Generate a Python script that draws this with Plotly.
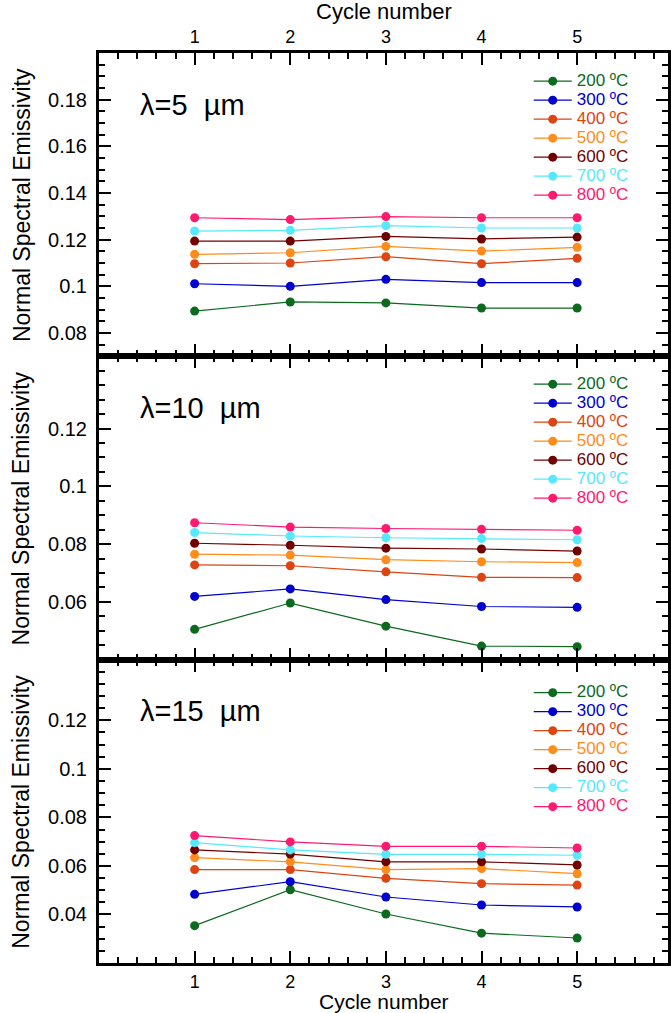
import plotly.graph_objects as go

cycles = [1, 2, 3, 4, 5]
temp_labels = ["200 ºC", "300 ºC", "400 ºC", "500 ºC", "600 ºC", "700 ºC", "800 ºC"]
colors = ["#0B6A1E", "#0000D0", "#DD4411", "#FF8C1A", "#700000", "#55E8FF", "#FF1A70"]

# lambda = 5 um
e5_200 = [0.0894, 0.0933, 0.0929, 0.0907, 0.0907]
e5_300 = [0.1011, 0.1000, 0.1030, 0.1016, 0.1016]
e5_400 = [0.1097, 0.1100, 0.1127, 0.1097, 0.1120]
e5_500 = [0.1137, 0.1144, 0.1171, 0.1151, 0.1167]
e5_600 = [0.1194, 0.1194, 0.1214, 0.1203, 0.1211]
e5_700 = [0.1237, 0.1240, 0.1260, 0.1250, 0.1250]
e5_800 = [0.1294, 0.1286, 0.1299, 0.1294, 0.1294]

# lambda = 10 um
e10_200 = [0.0505, 0.0596, 0.0516, 0.0447, 0.0445]
e10_300 = [0.0619, 0.0645, 0.0608, 0.0584, 0.0581]
e10_400 = [0.0728, 0.0725, 0.0704, 0.0685, 0.0684]
e10_500 = [0.0765, 0.0762, 0.0746, 0.0739, 0.0736]
e10_600 = [0.0803, 0.0796, 0.0786, 0.0783, 0.0776]
e10_700 = [0.0840, 0.0828, 0.0822, 0.0819, 0.0815]
e10_800 = [0.0874, 0.0859, 0.0854, 0.0851, 0.0848]

# lambda = 15 um
e15_200 = [0.0354, 0.0502, 0.0402, 0.0323, 0.0303]
e15_300 = [0.0483, 0.0535, 0.0472, 0.0439, 0.0431]
e15_400 = [0.0585, 0.0585, 0.0549, 0.0527, 0.0521]
e15_500 = [0.0634, 0.0617, 0.0585, 0.0589, 0.0568]
e15_600 = [0.0666, 0.0649, 0.0617, 0.0617, 0.0604]
e15_700 = [0.0696, 0.0666, 0.0648, 0.0648, 0.0644]
e15_800 = [0.0725, 0.0699, 0.0681, 0.0681, 0.0674]

panel_labels = ["λ=5 µm", "λ=10 µm", "λ=15 µm"]
y_ranges = [[0.07, 0.2], [0.04, 0.145], [0.02, 0.145]]
y_tickvals = [[0.08, 0.10, 0.12, 0.14, 0.16, 0.18],
              [0.06, 0.08, 0.10, 0.12],
              [0.04, 0.06, 0.08, 0.10, 0.12]]
y_ticktext = [["0.08", "0.1", "0.12", "0.14", "0.16", "0.18"],
              ["0.06", "0.08", "0.1", "0.12"],
              ["0.04", "0.06", "0.08", "0.1", "0.12"]]
x_tickvals = [1, 2, 3, 4, 5]
x_ticktext = ["1", "2", "3", "4", "5"]

panels = [
    [e5_200, e5_300, e5_400, e5_500, e5_600, e5_700, e5_800],
    [e10_200, e10_300, e10_400, e10_500, e10_600, e10_700, e10_800],
    [e15_200, e15_300, e15_400, e15_500, e15_600, e15_700, e15_800],
]

FONT = "Arial, Liberation Sans, sans-serif"
W, H = 671, 1013
ML, MR, MT, MB = 99, 0, 53, 50
PW, PH = W - ML - MR, H - MT - MB

fig = go.Figure()
legend_names = ["legend", "legend2", "legend3"]
for p, series in enumerate(panels):
    ax = "" if p == 0 else str(p + 1)
    for k, vals in enumerate(series):
        fig.add_trace(go.Scatter(
            x=cycles, y=vals, mode="lines+markers",
            name=f'<span style="font-size:17px;color:{colors[k]}">{temp_labels[k]}</span>',
            line=dict(color=colors[k], width=1.2),
            marker=dict(color=colors[k], size=9),
            xaxis="x" + ax, yaxis="y" + ax,
            legend=legend_names[p],
        ))

domains = [[2 / 3, 1.0], [1 / 3, 2 / 3], [0.0, 1 / 3]]
layout = dict(
    width=W, height=H,
    margin=dict(l=ML, r=MR, t=MT, b=MB, pad=0),
    paper_bgcolor="white", plot_bgcolor="white",
    font=dict(family=FONT, color="black"),
    showlegend=True,
)
axis_common = dict(
    showgrid=False, zeroline=False, showline=True, linecolor="black", linewidth=3,
    ticks="inside", ticklen=12, tickwidth=2, tickcolor="black", mirror="ticks",
)
for p in range(3):
    ax = "" if p == 0 else str(p + 1)
    xa = dict(axis_common)
    xa.update(
        domain=[0, 1], range=[0, 5.95], anchor="y" + ax,
        tickmode="array", tickvals=x_tickvals, ticktext=x_ticktext,
        tickfont=dict(size=18, family=FONT),
        minor=dict(tickmode="linear", tick0=0, dtick=0.2, ticklen=6, tickwidth=2,
                   ticks="inside", tickcolor="black"),
        side="top" if p == 0 else "bottom",
        showticklabels=(p != 1),
    )
    ya = dict(axis_common)
    ya.update(
        domain=domains[p], range=y_ranges[p], anchor="x" + ax,
        tickmode="array", tickvals=y_tickvals[p], ticktext=y_ticktext[p],
        tickfont=dict(size=20, family=FONT), ticklabelstandoff=5,
        minor=dict(tickmode="linear", tick0=0, dtick=0.005, ticklen=6, tickwidth=2,
                   ticks="inside", tickcolor="black"),
    )
    layout["xaxis" + ax] = xa
    layout["yaxis" + ax] = ya

leg_tops = [0.985, 0.652, 0.313]
for p in range(3):
    layout[legend_names[p]] = dict(
        x=(531 - ML) / PW, xanchor="left",
        y=leg_tops[p], yanchor="top",
        bgcolor="rgba(0,0,0,0)", borderwidth=0,
        font=dict(size=12, family=FONT),
        itemwidth=38, tracegroupgap=0,
    )

fig.update_layout(**layout)

annotations = []
for p in range(3):
    ax = "" if p == 0 else str(p + 1)
    annotations.append(dict(
        text="Normal Spectral Emissivity", textangle=-90,
        xref="paper", x=(21 - ML) / PW, xanchor="center",
        yref=f"y{ax} domain", y=0.5, yanchor="middle",
        showarrow=False, font=dict(size=23, family=FONT, color="black"),
    ))
    annotations.append(dict(
        text=panel_labels[p].replace(" ", "  "),
        xref="paper", x=(138 - ML) / PW, xanchor="left",
        yref=f"y{ax} domain", y=0.83, yanchor="middle",
        showarrow=False, font=dict(size=29, family=FONT, color="black"),
    ))
annotations.append(dict(
    text="Cycle number", xref="paper", x=0.5, xanchor="center",
    yref="paper", y=1 + (MT - 12) / PH, yanchor="middle",
    showarrow=False, font=dict(size=22, family=FONT, color="black"),
))
annotations.append(dict(
    text="Cycle number", xref="paper", x=0.5, xanchor="center",
    yref="paper", y=-(1001 - (H - MB)) / PH, yanchor="middle",
    showarrow=False, font=dict(size=21, family=FONT, color="black"),
))
fig.update_layout(annotations=annotations)

fig.write_html("out.html")
